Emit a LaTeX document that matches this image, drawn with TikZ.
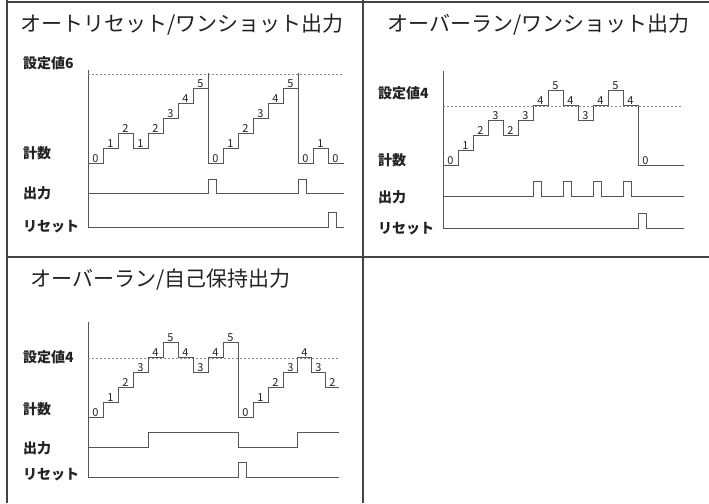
\documentclass[tikz,border=0pt]{standalone}
\usepackage{fontspec}
\newfontfamily\jp{Noto Sans CJK JP}
\definecolor{wavegray}{HTML}{555555}
\definecolor{dashgray}{HTML}{8A8A8A}
\definecolor{framegray}{HTML}{444444}
\definecolor{textgray}{HTML}{222222}
\tikzset{
    every node/.style={inner sep=0pt, text=textgray},
    title/.style={anchor=west, font=\jp\fontsize{21}{21}\selectfont},
    axlabel/.style={anchor=west, font=\jp\bfseries\fontsize{14}{14}\selectfont},
    num/.style={anchor=south, inner sep=1pt, font=\jp\fontsize{11}{11}\selectfont},
    wave/.style={draw=wavegray, line width=1pt, line cap=rect},
    setline/.style={draw=dashgray, line width=0.9pt, dash pattern=on 2pt off 2pt},
    frame/.style={draw=framegray, line width=1.6pt}
}

\begin{document}
\begin{tikzpicture}[x=1pt, y=1pt]
        \useasboundingbox (0,0) rectangle (709,503);
        % frame
        \draw[frame] (7,501) -- (709,501);
        \draw[frame] (7,246) -- (709,246);
        \draw[frame] (7,503) -- (7,0);
        \draw[frame] (363,503) -- (363,0);

        % auto reset / one shot
        \node[title] (t1) at (20,478) {オートリセット/ワンショット出力};
        \node[axlabel] (s1) at (23,440) {設定値6};
        \node[axlabel] (c1) at (23,350) {計数};
        \node[axlabel] (o1) at (23,310) {出力};
        \node[axlabel] (r1) at (23,276) {リセット};
        \draw[wave] (88,432) -- (88,275);
        \draw[setline] (88,429) -- (343,429);
        \foreach \x/\w/\lv [count=\i, remember=\lv as \pl (initially 0)] in
            {88/15/0,103/15/1,118/15/2,133/15/1,148/15/2,163/15/3,178/15/4,193/15/5,
             208/15/0,223/15/1,238/15/2,253/15/3,268/15/4,283/15/5,298/15/0,313/15/1,328/15/0}{
                \draw[wave] (\x,339+15*\pl) -- (\x,339+15*\lv) -- ++(\w,0);
                \node[num] (a\i) at (\x+7.5,339+15*\lv) {\lv};
        }
        \draw[wave] (208,414) -- (208,429);
        \draw[wave] (298,414) -- (298,429);
        \draw[wave] (88,309) foreach \p in {208,298} {-- (\p,309) -- ++(0,14) -- ++(8,0) -- ++(0,-14)} -- (343,309);
        \draw[wave] (88,275) -- (328,275) -- ++(0,15) -- ++(8,0) -- ++(0,-15) -- (343,275);

        % overrun / one shot
        \node[title] (t2) at (387,478) {オーバーラン/ワンショット出力};
        \node[axlabel] (s2) at (378,410) {設定値4};
        \node[axlabel] (c2) at (378,343) {計数};
        \node[axlabel] (o2) at (378,306) {出力};
        \node[axlabel] (r2) at (378,274) {リセット};
        \draw[wave] (443,431) -- (443,274);
        \draw[setline] (443,397) -- (683,397);
        \foreach \x/\w/\lv [count=\i, remember=\lv as \pl (initially 0)] in
            {443/15/0,458/15/1,473/15/2,488/15/3,503/15/2,518/15/3,533/15/4,548/15/5,
             563/15/4,578/15/3,593/15/4,608/15/5,623/15/4,638/45/0}{
                \draw[wave] (\x,337+15*\pl) -- (\x,337+15*\lv) -- ++(\w,0);
                \node[num] (b\i) at (\x+7.5,337+15*\lv) {\lv};
        }
        \draw[wave] (443,306) foreach \p in {533,563,593,623} {-- (\p,306) -- ++(0,15) -- ++(8,0) -- ++(0,-15)} -- (683,306);
        \draw[wave] (443,274) -- (638,274) -- ++(0,15) -- ++(8,0) -- ++(0,-15) -- (683,274);

        % overrun / self hold
        \node[title] (t3) at (30,223) {オーバーラン/自己保持出力};
        \node[axlabel] (s3) at (23,146) {設定値4};
        \node[axlabel] (c3) at (23,94) {計数};
        \node[axlabel] (o3) at (23,55) {出力};
        \node[axlabel] (r3) at (23,28) {リセット};
        \draw[wave] (88,180) -- (88,25);
        \draw[setline] (88,145) -- (338,145);
        \foreach \x/\w/\lv [count=\i, remember=\lv as \pl (initially 0)] in
            {88/15/0,103/15/1,118/15/2,133/15/3,148/15/4,163/15/5,178/15/4,193/15/3,208/15/4,223/15/5,
             238/15/0,253/15/1,268/15/2,283/14/3,297/14/4,311/14/3,325/13/2}{
                \draw[wave] (\x,85+15*\pl) -- (\x,85+15*\lv) -- ++(\w,0);
                \node[num] (d\i) at (\x+7.5,85+15*\lv) {\lv};
        }
        \draw[wave] (88,55) -- (148,55) -- (148,70) -- (238,70) -- (238,55) -- (297,55) -- (297,70) -- (338,70);
        \draw[wave] (88,25) -- (238,25) -- ++(0,15) -- ++(8,0) -- ++(0,-15) -- (338,25);
\end{tikzpicture}
\end{document}
